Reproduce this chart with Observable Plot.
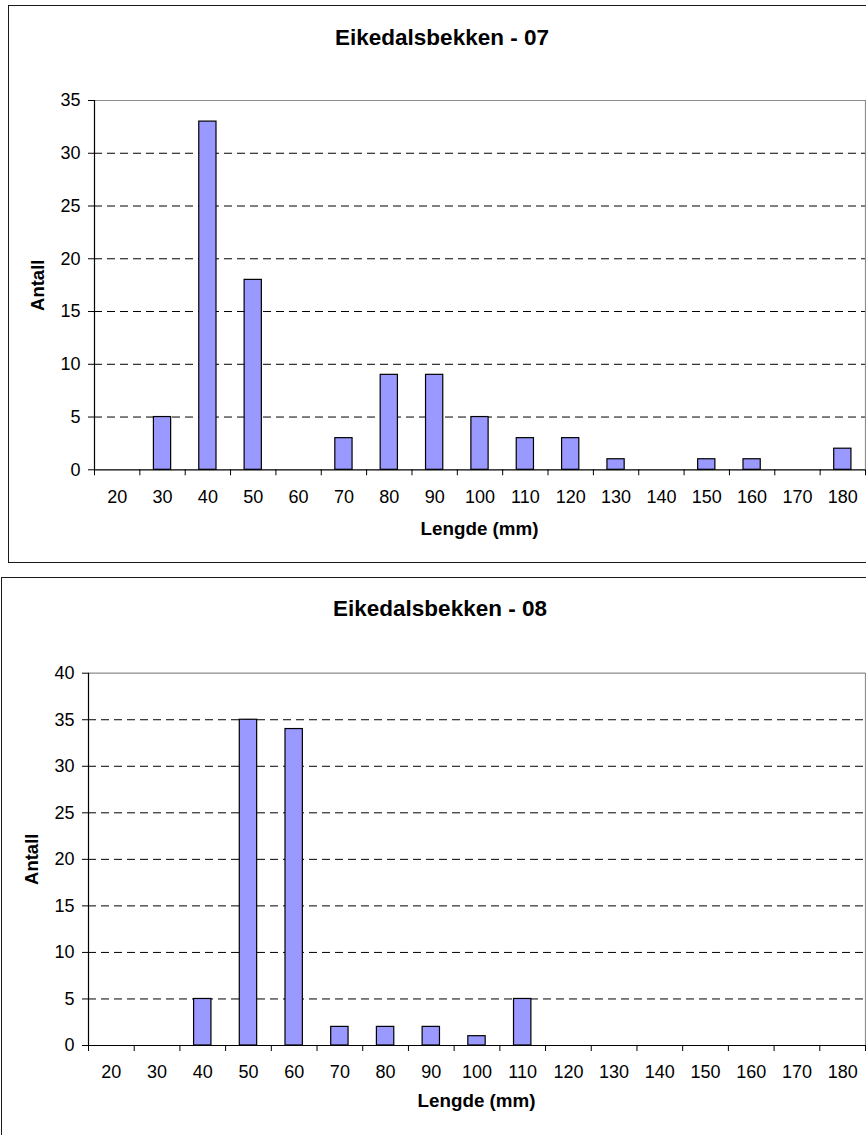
<!DOCTYPE html>
<html>
<head>
<meta charset="utf-8">
<script src="https://cdn.jsdelivr.net/npm/d3@7"></script>
<script src="https://cdn.jsdelivr.net/npm/@observablehq/plot@0.6"></script>
<style>
  html, body { margin: 0; padding: 0; background: #fff; overflow: hidden; }
  body { width: 866px; height: 1135px; position: relative; font-family: "Liberation Sans", Arial, sans-serif; }
  .box { position: absolute; border: 1.5px solid #1a1a1a; box-sizing: border-box; }
  .abs { position: absolute; white-space: nowrap; line-height: 1; color: #000; }
  .title { font-weight: bold; font-size: 22.5px; width: 600px; text-align: center; }
  .xlab { font-weight: bold; font-size: 18.8px; width: 300px; text-align: center; }
  .ylab { font-weight: bold; font-size: 18.5px; width: 200px; text-align: center; transform: rotate(-90deg); transform-origin: 50% 50%; }
  .plot { position: absolute; left: 0; }
</style>
</head>
<body>
<script>
// ---- data ----
const lengths = [20, 30, 40, 50, 60, 70, 80, 90, 100, 110, 120, 130, 140, 150, 160, 170, 180];
const counts07 = [0, 5, 33, 18, 0, 3, 9, 9, 5, 3, 3, 1, 0, 1, 1, 0, 2];
const counts08 = [0, 0, 5, 35, 34, 2, 2, 2, 1, 5, 0, 0, 0, 0, 0, 0, 0];
const yTicks07 = [0, 5, 10, 15, 20, 25, 30, 35];
const yTicks08 = [0, 5, 10, 15, 20, 25, 30, 35, 40];
const title07 = "Eikedalsbekken - 07";
const title08 = "Eikedalsbekken - 08";
const xLabel = "Lengde (mm)";
const yLabel = "Antall";

const step = 10;
const halfBar = 1.9;
const bounds = lengths.map(v => v - step / 2).concat([lengths[lengths.length - 1] + step / 2]);

function chart({counts, yTicks, top, height, marginTop, marginBottom, marginLeft}) {
  const data = lengths.map((len, i) => ({len, count: counts[i]})).filter(d => d.count > 0);
  const yMax = yTicks[yTicks.length - 1];
  const svg = Plot.plot({
    width: 866,
    height,
    marginTop,
    marginBottom,
    marginLeft,
    marginRight: 1,
    style: {fontFamily: "Liberation Sans, Arial, sans-serif", fontSize: "18px", color: "#000", background: "transparent"},
    x: {type: "linear", domain: [bounds[0], bounds[bounds.length - 1]]},
    y: {domain: [0, yMax]},
    marks: [
      Plot.ruleY(yTicks.filter(v => v > 0 && v < yMax), {stroke: "#000", strokeWidth: 1, strokeDasharray: "8,5"}),
      Plot.ruleY([yMax], {stroke: "#8c8c8c", strokeWidth: 1.2}),
      Plot.ruleX([bounds[bounds.length - 1]], {stroke: "#8c8c8c", strokeWidth: 1.2}),
      Plot.rectY(data, {x1: d => d.len - halfBar, x2: d => d.len + halfBar, y1: 0, y2: "count", fill: "#9999ff", stroke: "#000", strokeWidth: 1.2}),
      Plot.ruleX([bounds[0]], {stroke: "#000", strokeWidth: 1.2}),
      Plot.ruleY([0], {stroke: "#000", strokeWidth: 1.2}),
      Plot.axisX({ticks: bounds, tickSize: 6, tickFormat: () => "", label: null, stroke: "#000"}),
      Plot.axisX({ticks: lengths, tickSize: 0, tickPadding: 20.2, tickFormat: d => String(d), label: null}),
      Plot.axisY({ticks: yTicks, tickSize: 6, tickPadding: 8, tickFormat: d => String(d), label: null, stroke: "#000"})
    ]
  });
  svg.classList.add("plot");
  svg.style.top = top + "px";
  document.body.appendChild(svg);
}

function addDiv(cls, text, css) {
  const d = document.createElement("div");
  d.className = cls;
  if (text) d.textContent = text;
  Object.assign(d.style, css);
  document.body.appendChild(d);
  return d;
}

// boxes
addDiv("box", "", {left: "8px", top: "5px", width: "900px", height: "558px"});
addDiv("box", "", {left: "1px", top: "576.5px", width: "900px", height: "600px"});

// chart 07
chart({counts: counts07, yTicks: yTicks07, top: 0, height: 560, marginTop: 100, marginBottom: 90.7, marginLeft: 94});
addDiv("abs title", title07, {left: (442 - 300) + "px", top: "27px"});
addDiv("abs xlab", xLabel, {left: (479.5 - 150) + "px", top: "520px"});
addDiv("abs ylab", yLabel, {left: (38 - 100) + "px", top: (284.5 - 9) + "px"});

// chart 08
chart({counts: counts08, yTicks: yTicks08, top: 570, height: 565, marginTop: 102.7, marginBottom: 90, marginLeft: 88});
addDiv("abs title", title08, {left: (440 - 300) + "px", top: "597.5px"});
addDiv("abs xlab", xLabel, {left: (476.5 - 150) + "px", top: "1092px"});
addDiv("abs ylab", yLabel, {left: (32 - 100) + "px", top: (859 - 9) + "px"});
</script>
</body>
</html>
